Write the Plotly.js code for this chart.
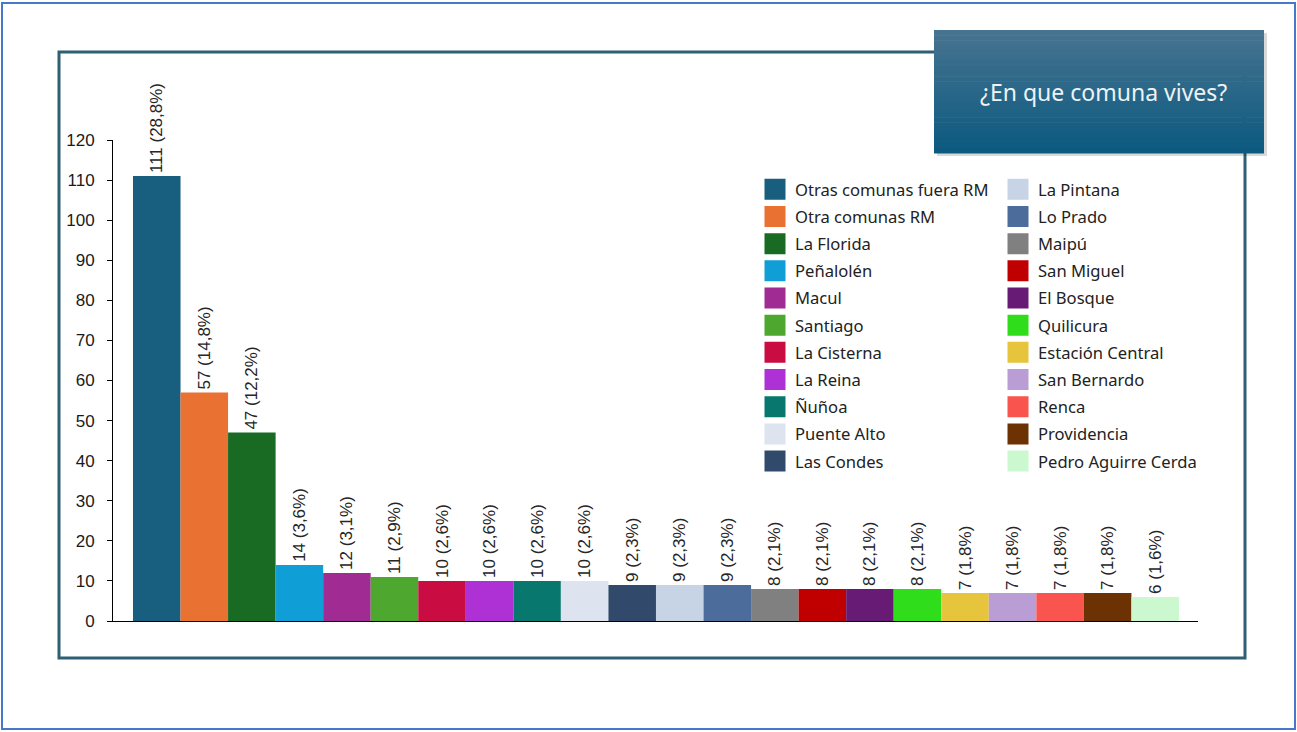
<!DOCTYPE html>
<html>
<head>
<meta charset="utf-8">
<script src="https://cdn.plot.ly/plotly-3.0.1.min.js"></script>
<style>html,body{margin:0;padding:0;background:#fff;}#chart{width:1297px;height:732px;}</style>
</head>
<body>
<div id="chart"></div>
<script>
const comunas = ["Otras comunas fuera RM","Otra comunas RM","La Florida","Peñalolén","Macul","Santiago","La Cisterna","La Reina","Ñuñoa","Puente Alto","Las Condes","La Pintana","Lo Prado","Maipú","San Miguel","El Bosque","Quilicura","Estación Central","San Bernardo","Renca","Providencia","Pedro Aguirre Cerda"];
const valores = [111,57,47,14,12,11,10,10,10,10,9,9,9,8,8,8,8,7,7,7,7,6];
const porcentajes = ["28,8%","14,8%","12,2%","3,6%","3,1%","2,9%","2,6%","2,6%","2,6%","2,6%","2,3%","2,3%","2,3%","2,1%","2,1%","2,1%","2,1%","1,8%","1,8%","1,8%","1,8%","1,6%"];
const colores = ["#185e7e","#e97132","#196b24","#0f9ed5","#a02b93","#4ea72e","#c90c42","#ae31d6","#08786e","#dde3ef","#314a6c","#c6d4e5","#4c6c9c","#808080","#c00000","#681b74","#2fdd1a","#e6c43c","#b99dd4","#f9554e","#6c3204","#ccf8d0"];
const yTicks = [0,10,20,30,40,50,60,70,80,90,100,110,120];
const titulo = "¿En que comuna vives?";

const W = 1297, H = 732;
const px = x => x / W;
const py = y => 1 - y / H;

const traces = [];
comunas.forEach((c, i) => {
  traces.push({
    type: 'bar', x: [c], y: [valores[i]], name: c,
    marker: {color: colores[i]}, width: 1,
    text: [valores[i] + " (" + porcentajes[i] + ")"],
    textposition: 'outside', textangle: -90, constraintext: 'none',
    textfont: {family: 'Liberation Sans, Arial, sans-serif', size: 17, color: '#262626'},
    cliponaxis: false, showlegend: false, hoverinfo: 'skip'
  });
});
comunas.forEach((c, i) => {
  traces.push({
    type: 'scatter', mode: 'markers', x: [null], y: [null], name: c,
    legendgroup: c, legend: i < 11 ? 'legend' : 'legend2',
    marker: {symbol: 'square', size: 16, color: colores[i], line: {color: colores[i], width: 5}},
    hoverinfo: 'skip'
  });
});

const shapes = [
  {type:'rect', xref:'paper', yref:'paper', x0:px(2), x1:px(1295), y0:py(3), y1:py(729), line:{color:'#4a78c8', width:2}},
  {type:'rect', xref:'paper', yref:'paper', x0:px(59), x1:px(1245), y0:py(52), y1:py(658), line:{color:'#2f5f73', width:3}},
  {type:'rect', xref:'paper', yref:'paper', x0:px(937), x1:px(1267), y0:py(33), y1:py(156), line:{width:0}, fillcolor:'rgba(0,0,0,0.15)'}
];
const nb = 24, boxTop = 30, boxBot = 153;
const c0 = [70,115,143], c1 = [12,90,128];
for (let k = 0; k < nb; k++) {
  const t = k / (nb - 1);
  const r = Math.round(c0[0] + (c1[0]-c0[0])*t), g = Math.round(c0[1] + (c1[1]-c0[1])*t), b = Math.round(c0[2] + (c1[2]-c0[2])*t);
  shapes.push({type:'rect', xref:'paper', yref:'paper', x0:px(934), x1:px(1264),
    y0:py(boxTop + (boxBot-boxTop)*k/nb), y1:py(boxTop + (boxBot-boxTop)*(k+1)/nb + 0.6),
    line:{width:0}, fillcolor:`rgb(${r},${g},${b})`});
}

const legFont = {family:'Noto Sans, sans-serif', size:16.6, color:'#222'};
const layout = {
  width: W, height: H,
  margin: {l:0, r:0, t:0, b:0},
  paper_bgcolor: '#ffffff', plot_bgcolor: '#ffffff',
  barmode: 'overlay',
  showlegend: true,
  xaxis: {domain:[px(113), px(1198)], type:'category', range:[-0.92, 21.9],
    showticklabels:false, ticks:'', showgrid:false, zeroline:false,
    showline:true, linecolor:'#000', linewidth:1, fixedrange:true},
  yaxis: {domain:[py(621), py(140)], range:[0,120], tickvals:yTicks,
    ticks:'outside', ticklen:5, tickcolor:'#000', ticklabelstandoff:9,
    showgrid:false, zeroline:false, showline:true, linecolor:'#000', linewidth:1,
    tickfont:{family:'Liberation Sans, Arial, sans-serif', size:17, color:'#1a1a1a'}, fixedrange:true},
  legend: {x:px(755), y:py(172), xanchor:'left', yanchor:'top', bgcolor:'rgba(0,0,0,0)',
    tracegroupgap:2.6, font:legFont},
  legend2: {x:px(998), y:py(172), xanchor:'left', yanchor:'top', bgcolor:'rgba(0,0,0,0)',
    tracegroupgap:2.6, font:legFont},
  shapes: shapes,
  annotations: [{xref:'paper', yref:'paper', x:px(1103), y:py(92), text:titulo, showarrow:false,
    xanchor:'center', yanchor:'middle', font:{family:'Noto Sans, sans-serif', size:23, color:'#eef3f6'}}]
};

Plotly.newPlot('chart', traces, layout, {displayModeBar:false, staticPlot:true});
</script>
</body>
</html>
